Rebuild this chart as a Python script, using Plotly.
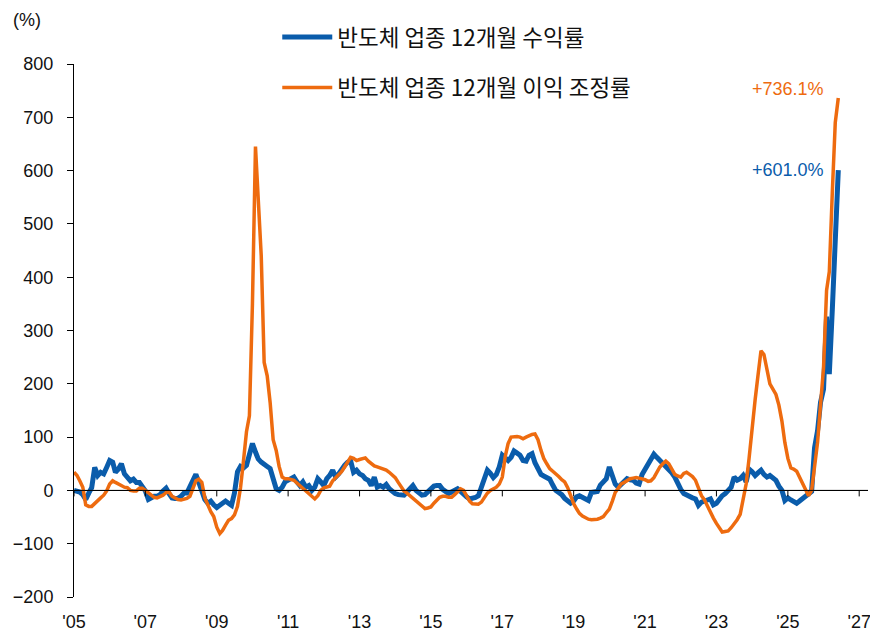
import pandas as pd
import plotly.graph_objects as go

# ---- data (monthly, Jan-2005 .. Jun-2026) ----
start_month = "2005-01-01"

semis_return = [  # 반도체 업종 12개월 수익률 (%)
    0, -1, -3, -8, -17, -5, 5, 43, 28, 34, 31, 43,            # 2005
    56, 53, 34, 40, 50, 31, 24, 18, 21, 15, 15, 8,            # 2006
    -1, -17, -14, -11, -11, -8, -1, 4, -6, -14, -15, -15,     # 2007
    -11, -5, -5, 8, 18, 30, 15, -5, -17, -24, -20, -27,       # 2008
    -32, -28, -24, -20, -24, -28, -5, 35, 45, 42, 47, 65,     # 2009
    88, 72, 59, 53, 50, 45, 41, 25, 3, 0, 6, 16,              # 2010
    19, 22, 25, 16, 9, 16, 6, 9, 0, 6, 22, 16,                # 2011
    9, 22, 28, 38, 25, 31, 41, 47, 53, 56, 34, 38,            # 2012
    31, 28, 22, 19, 9, 25, 6, 9, 6, 11, 3, -3,                # 2013
    -6, -8, -8, -9, -3, 3, 9, 0, -6, -9, -8, -3,              # 2014
    5, 8, 9, 9, 2, -3, -6, -3, 0, 3, -2, -8,                  # 2015
    -12, -16, -15, -13, -10, 5, 22, 38, 32, 24, 30, 44,       # 2016
    66, 62, 56, 62, 74, 70, 66, 56, 55, 66, 69, 52,           # 2017
    40, 30, 27, 25, 21, 10, 0, -4, -8, -15, -20, -24,         # 2018
    -20, -12, -10, -13, -18, -19, -4, -3, -2, 10, 16, 22,     # 2019
    44, 24, 12, 6, 12, 18, 22, 20, 19, 14, 12, 30,            # 2020
    40, 47, 58, 68, 62, 56, 52, 47, 41, 33, 25, 12,           # 2021
    2, -6, -9, -12, -14, -16, -28, -22, -19, -18, -16, -27,   # 2022
    -24, -16, -10, -6, 0, 6, 25, 19, 22, 28, 16, 40,          # 2023
    35, 28, 33, 38, 30, 25, 28, 22, 19, 8, 0, -19,            # 2024
    -14, -18, -22, -24, -20, -16, -12, -8, -2, 80, 112, 165,  # 2025
    190, 326, 218, 340, 470, 601.0,                           # 2026
]

semis_revision = [  # 반도체 업종 12개월 이익 조정률 (%)
    34, 28, 18, 6, -27, -30, -30, -24, -19, -14, -9, -1,      # 2005
    12, 18, 15, 12, 8, 6, 5, 0, -1, -1, 4, 4,                 # 2006
    0, -4, -9, -13, -14, -11, -9, -4, -3, -11, -15, -17,      # 2007
    -18, -17, -15, -11, 2, 18, 21, 15, -14, -27, -40, -49,    # 2008
    -69, -81, -75, -65, -56, -53, -46, -30, 5, 55, 110, 140,  # 2009
    350, 645, 540, 440, 240, 215, 165, 95, 75, 45, 25, 22,    # 2010
    22, 21, 19, 14, 9, 5, 0, -5, -12, -16, -10, 0,            # 2011
    5, 7, 8, 18, 24, 28, 35, 44, 53, 62, 60, 56,              # 2012
    58, 60, 61, 55, 50, 46, 44, 42, 41, 38, 34, 28,           # 2013
    24, 15, 6, -1, -5, -10, -14, -19, -25, -29, -34, -33,     # 2014
    -31, -24, -18, -13, -11, -11, -13, -13, -8, -2, 3, 0,     # 2015
    -10, -20, -25, -26, -26, -22, -12, -5, 0, 3, 6, 12,       # 2016
    25, 65, 88, 100, 101, 101, 100, 97, 100, 103, 105, 106,   # 2017
    95, 75, 60, 50, 41, 36, 32, 26, 20, 16, 5, -10,           # 2018
    -25, -35, -43, -48, -51, -54, -55, -55, -54, -52, -49, -42,  # 2019
    -35, -20, -4, 4, 12, 15, 19, 22, 23, 24, 23, 22,          # 2020
    20, 17, 18, 24, 35, 44, 50, 55, 50, 40, 30, 27,           # 2021
    25, 32, 34, 30, 26, 19, 5, -10, -18, -30, -40, -52,       # 2022
    -62, -72, -78, -77, -76, -70, -63, -55, -45, -15, 12, 60,  # 2023
    120, 170, 215, 262, 255, 230, 200, 190, 180, 160, 130, 90,  # 2024
    60, 42, 40, 36, 25, 15, 2, -10, 0, 50, 90, 160,           # 2025
    230, 375, 410, 560, 690, 736.1,                           # 2026
]

series_names = ["반도체 업종 12개월 수익률", "반도체 업종 12개월 이익 조정률"]
tick_years = list(range(2005, 2028, 2))
tick_labels = ["'05", "'07", "'09", "'11", "'13", "'15", "'17", "'19", "'21", "'23", "'25", "'27"]
y_ticks = list(range(-200, 801, 100))
y_range = [-200, 800]

# ---- styling ----
BLUE = "#0A5CAB"
ORANGE = "#EE6B0F"
LATIN = "Arial, 'Liberation Sans', sans-serif"
KOREAN = "'Noto Sans CJK KR', 'Noto Sans', sans-serif"

dates = pd.date_range(start_month, periods=len(semis_return), freq="MS")
tick_dates = [pd.Timestamp(f"{y}-01-01") for y in tick_years]
x_range = [pd.Timestamp("2005-01-01"), pd.Timestamp("2027-04-01")]

fig = go.Figure()
fig.add_trace(go.Scatter(
    x=dates, y=semis_return, name=series_names[0], mode="lines",
    line=dict(color=BLUE, width=5), legend="legend",
))
fig.add_trace(go.Scatter(
    x=dates, y=semis_revision, name=series_names[1], mode="lines",
    line=dict(color=ORANGE, width=3.5), legend="legend2",
))

# horizontal axis line at y = 0 across the plot, plus small downward ticks
fig.add_shape(
    type="line", xref="paper", yref="y", x0=0, x1=1, y0=0, y1=0,
    line=dict(color="#000", width=1), layer="above",
)
for td in tick_dates:
    fig.add_shape(
        type="line", xref="x", yref="y", x0=td, x1=td,
        ysizemode="pixel", yanchor=0, y0=0, y1=-6,
        line=dict(color="#000", width=1), layer="above",
    )

# end-value labels
fig.add_annotation(
    x=dates[-1], y=semis_revision[-1], xref="x", yref="y",
    text=f"+{semis_revision[-1]:.1f}%", showarrow=False,
    xanchor="right", yanchor="middle", xshift=-12, yshift=9,
    font=dict(family=LATIN, size=18, color=ORANGE),
)
fig.add_annotation(
    x=dates[-1], y=semis_return[-1], xref="x", yref="y",
    text=f"+{semis_return[-1]:.1f}%", showarrow=False,
    xanchor="right", yanchor="middle", xshift=-12, yshift=0,
    font=dict(family=LATIN, size=18, color=BLUE),
)
fig.add_annotation(
    x=-0.079, y=1.083, xref="paper", yref="paper", text="(%)",
    showarrow=False, xanchor="left", yanchor="middle",
    font=dict(family=LATIN, size=18, color="#111"),
)

legend_common = dict(
    bgcolor="rgba(0,0,0,0)", font=dict(family=KOREAN, size=22.5, color="#111"),
    itemwidth=50, xanchor="left", yanchor="middle", orientation="v",
)

fig.update_layout(
    width=870, height=633,
    margin=dict(l=74, r=2, t=64, b=36, autoexpand=False),
    paper_bgcolor="white", plot_bgcolor="rgba(0,0,0,0)",
    showlegend=True,
    legend=dict(x=0.256, y=1.05, **legend_common),
    legend2=dict(x=0.256, y=0.955, **legend_common),
    xaxis=dict(
        type="date", range=x_range, tickvals=tick_dates, ticktext=tick_labels,
        showgrid=False, zeroline=False, showline=False, ticks="",
        tickfont=dict(family=LATIN, size=18, color="#111"),
        ticklabelstandoff=12, automargin=False, ticklabeloverflow="allow",
    ),
    yaxis=dict(
        range=y_range, tickvals=y_ticks, showgrid=False,
        zeroline=True, zerolinecolor="#000", zerolinewidth=1,
        showline=True, linecolor="#000", linewidth=1,
        ticks="outside", ticklen=6, tickcolor="#000",
        tickfont=dict(family=LATIN, size=18, color="#111"),
        ticklabelstandoff=10, automargin=False,
    ),
)

fig.write_html(
    "out.html",
    config={"displayModeBar": False},
    post_script="document.body.style.margin='0px';document.body.style.overflow='hidden';",
)
